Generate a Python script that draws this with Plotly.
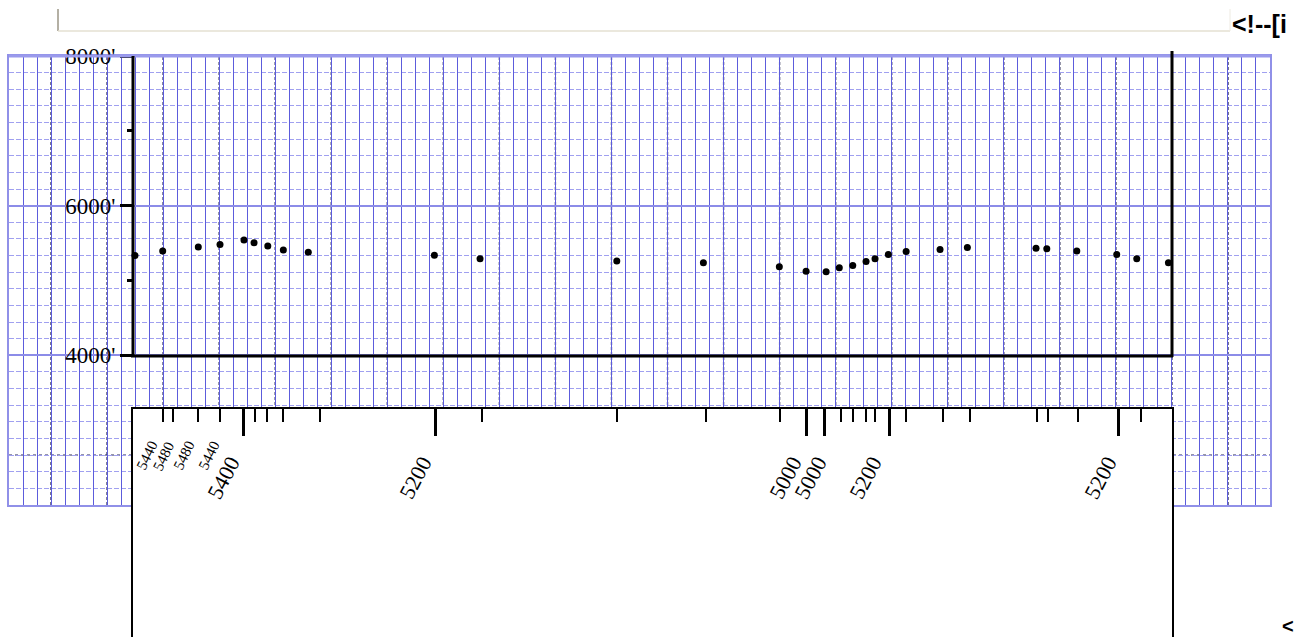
import plotly.graph_objects as go

# ---------------- data ----------------
# profile stations: distance along route (grid units) and elevation (feet)
station_dist = [8.99, 10.97, 13.51, 15.06, 16.77, 17.49, 18.47, 19.58, 21.36, 30.36,
                33.62, 43.38, 49.56, 54.98, 56.89, 58.32, 59.26, 60.22, 61.17, 61.81,
                62.76, 64.03, 66.45, 68.40, 73.30, 74.07, 76.21, 79.06, 80.49, 82.75]
station_elev = [5335, 5393, 5446, 5482, 5540, 5505, 5460, 5406, 5379, 5339,
                5291, 5259, 5237, 5184, 5125, 5117, 5170, 5201, 5255, 5291,
                5348, 5388, 5415, 5442, 5432, 5425, 5393, 5348, 5291, 5237]

# marker ticks in the lower strip (distance units)
short_tick_dist = [10.97, 11.68, 13.51, 15.06, 17.56, 18.39, 19.54, 22.20, 33.74, 43.40,
                   49.73, 55.00, 59.35, 60.21, 61.18, 61.82, 64.03, 66.64, 68.56, 73.38,
                   74.19, 76.31, 80.80]
long_tick_dist = [16.77, 30.41, 56.91, 58.24, 62.85, 79.22]

# rotated labels in the lower strip
small_label_dist = [10.99, 12.20, 13.63, 15.42]
small_label_text = ["5440", "5480", "5480", "5440"]
big_label_dist = [17.06, 30.76, 57.17, 58.96, 62.88, 79.66]
big_label_text = ["5400", "5200", "5000", "5000", "5200", "5200"]

# elevation axis
elev_tick_vals = [4000, 6000, 8000]
elev_tick_text = ["4000'", "6000'", "8000'"]
elev_minor_vals = [5000, 7000]

# ---------------- layout helpers ----------------
W, H = 1294, 637
X_MAX = 90          # grid-paper width in grid units
RULE_START, RULE_STEP = 3, 4   # darker dashed rulings on the paper


def px(x):
    return x / W


def py(y):
    return 1 - y / H


SERIF = "Liberation Serif, Times New Roman, serif"

fig = go.Figure()
# main profile points
fig.add_trace(go.Scatter(x=station_dist, y=station_elev, mode="markers",
                         marker=dict(color="black", size=7),
                         xaxis="x", yaxis="y", showlegend=False, hoverinfo="skip"))
# carriers for the tick-only axes
fig.add_trace(go.Scatter(x=[], y=[], xaxis="x", yaxis="y3", showlegend=False))
fig.add_trace(go.Scatter(x=[], y=[], xaxis="x", yaxis="y4", showlegend=False))
fig.add_trace(go.Scatter(x=[], y=[], xaxis="x2", yaxis="y2", showlegend=False))
fig.add_trace(go.Scatter(x=[], y=[], xaxis="x3", yaxis="y2", showlegend=False))

annotations = []
for d, t in zip(small_label_dist, small_label_text):
    annotations.append(dict(x=d, xref="x2", y=py(436), yref="paper", text=t,
                            showarrow=False, xanchor="right", yanchor="top",
                            textangle=-64, font=dict(family=SERIF, size=15, color="black")))
for d, t in zip(big_label_dist, big_label_text):
    annotations.append(dict(x=d, xref="x2", y=py(450), yref="paper", text=t,
                            showarrow=False, xanchor="right", yanchor="top",
                            textangle=-62, font=dict(family=SERIF, size=22, color="black")))
annotations.append(dict(x=px(1230), xref="paper", y=py(24), yref="paper",
                        text="<b>&lt;!--[i</b>", showarrow=False, xanchor="left",
                        yanchor="middle",
                        font=dict(family="Liberation Sans, Arial", size=25, color="black")))
annotations.append(dict(x=px(1280), xref="paper", y=py(626), yref="paper",
                        text="<b>&lt;</b>", showarrow=False, xanchor="left",
                        yanchor="middle",
                        font=dict(family="Liberation Sans, Arial", size=20, color="black")))

shapes = [
    # input-like box at the top
    dict(type="line", xref="paper", yref="paper", x0=px(58), x1=px(58), y0=py(9), y1=py(31),
         line=dict(color="#b4b0a4", width=2)),
    dict(type="line", xref="paper", yref="paper", x0=px(58), x1=px(1230), y0=py(31), y1=py(31),
         line=dict(color="#e4e0d2", width=1.5)),
    dict(type="line", xref="paper", yref="paper", x0=px(1230), x1=px(1230), y0=py(9), y1=py(31),
         line=dict(color="#eeebe2", width=1)),
    # thicker top border of the grid paper
    dict(type="line", xref="paper", yref="paper", x0=px(9), x1=px(1270), y0=py(56), y1=py(56),
         line=dict(color="#9a9aec", width=3)),
    # profile frame
    dict(type="line", xref="paper", yref="paper", x0=px(133), x1=px(133), y0=py(56), y1=py(357),
         line=dict(color="black", width=3), layer="above"),
    dict(type="line", xref="paper", yref="paper", x0=px(131), x1=px(1173), y0=py(356), y1=py(356),
         line=dict(color="black", width=3), layer="above"),
    dict(type="line", xref="paper", yref="paper", x0=px(1172), x1=px(1172), y0=py(51), y1=py(357),
         line=dict(color="black", width=3), layer="above"),
    # darker dashed horizontal line on the lower paper
    dict(type="line", xref="paper", yref="paper", x0=px(9), x1=px(1270), y0=py(455), y1=py(455),
         line=dict(color="#2b2b58", width=1.2, dash="3px,3px"), layer="below"),
]
# darker dashed vertical rulings of the grid paper (every fourth grid line)
for k in range(RULE_START, X_MAX, RULE_STEP):
    shapes.append(dict(type="line", xref="x", yref="y domain", x0=k, x1=k, y0=0, y1=1,
                       line=dict(color="#22224c", width=1.3, dash="3px,2px"), layer="below"))

fig.update_layout(
    template="none",
    width=W, height=H,
    margin=dict(l=0, r=0, t=0, b=0, pad=0, autoexpand=False),
    paper_bgcolor="white", plot_bgcolor="white",
    showlegend=False,
    annotations=annotations,
    shapes=shapes,
    # blue grid-paper lines every unit
    xaxis=dict(domain=[px(9), px(1270)], range=[0, X_MAX], anchor="y",
               tickmode="linear", tick0=0, dtick=1, showgrid=True,
               gridcolor="#5c5cdc", gridwidth=1.2, griddash="solid",
               showticklabels=False, ticks="", zeroline=False,
               showline=True, mirror=True, linecolor="#9090e8", linewidth=2),
    yaxis=dict(domain=[py(505), py(56)], range=[2000, 8000], anchor="x",
               tick0=0, dtick=2000, showgrid=True, gridcolor="#8c8ce8", gridwidth=1.6,
               griddash="solid",
               minor=dict(tick0=2000, dtick=2000 / 9, showgrid=True, gridcolor="#a0a0f0",
                          gridwidth=1.3, griddash="5px,2px"),
               showticklabels=False, ticks="", zeroline=False,
               showline=True, mirror=True, linecolor="#9090e8", linewidth=2),
    yaxis3=dict(overlaying="y", anchor="free", position=px(133), side="left",
                range=[2000, 8000], tickmode="array", tickvals=elev_tick_vals,
                ticktext=elev_tick_text, ticks="outside", ticklen=13, tickwidth=2.5,
                tickcolor="black", tickfont=dict(family=SERIF, size=23, color="black"),
                showgrid=False, zeroline=False, showline=False),
    yaxis4=dict(overlaying="y", anchor="free", position=px(133), side="left",
                range=[2000, 8000], tickmode="array", tickvals=elev_minor_vals,
                ticks="outside", ticklen=6, tickwidth=2.5, tickcolor="black",
                showticklabels=False, showgrid=False, zeroline=False, showline=False),
    xaxis2=dict(domain=[px(133), px(1172)], range=[8.851, 83.01], anchor="y2", side="top",
                tickmode="array", tickvals=short_tick_dist, ticks="inside", ticklen=13,
                tickwidth=2, tickcolor="black", showticklabels=False, showgrid=False,
                zeroline=False, showline=True, linecolor="black", linewidth=2),
    xaxis3=dict(overlaying="x2", anchor="y2", side="top", range=[8.851, 83.01],
                tickmode="array", tickvals=long_tick_dist, ticks="inside", ticklen=27,
                tickwidth=2.5, tickcolor="black", showticklabels=False, showgrid=False,
                zeroline=False, showline=False),
    yaxis2=dict(domain=[0, py(409)], range=[0, 1], anchor="x2", showgrid=False,
                zeroline=False, showticklabels=False, ticks="",
                showline=True, mirror=True, linecolor="black", linewidth=2),
)

fig.write_html("out.html", config={"displayModeBar": False},
               post_script="document.body.style.margin='0';document.body.style.overflow='hidden';")
